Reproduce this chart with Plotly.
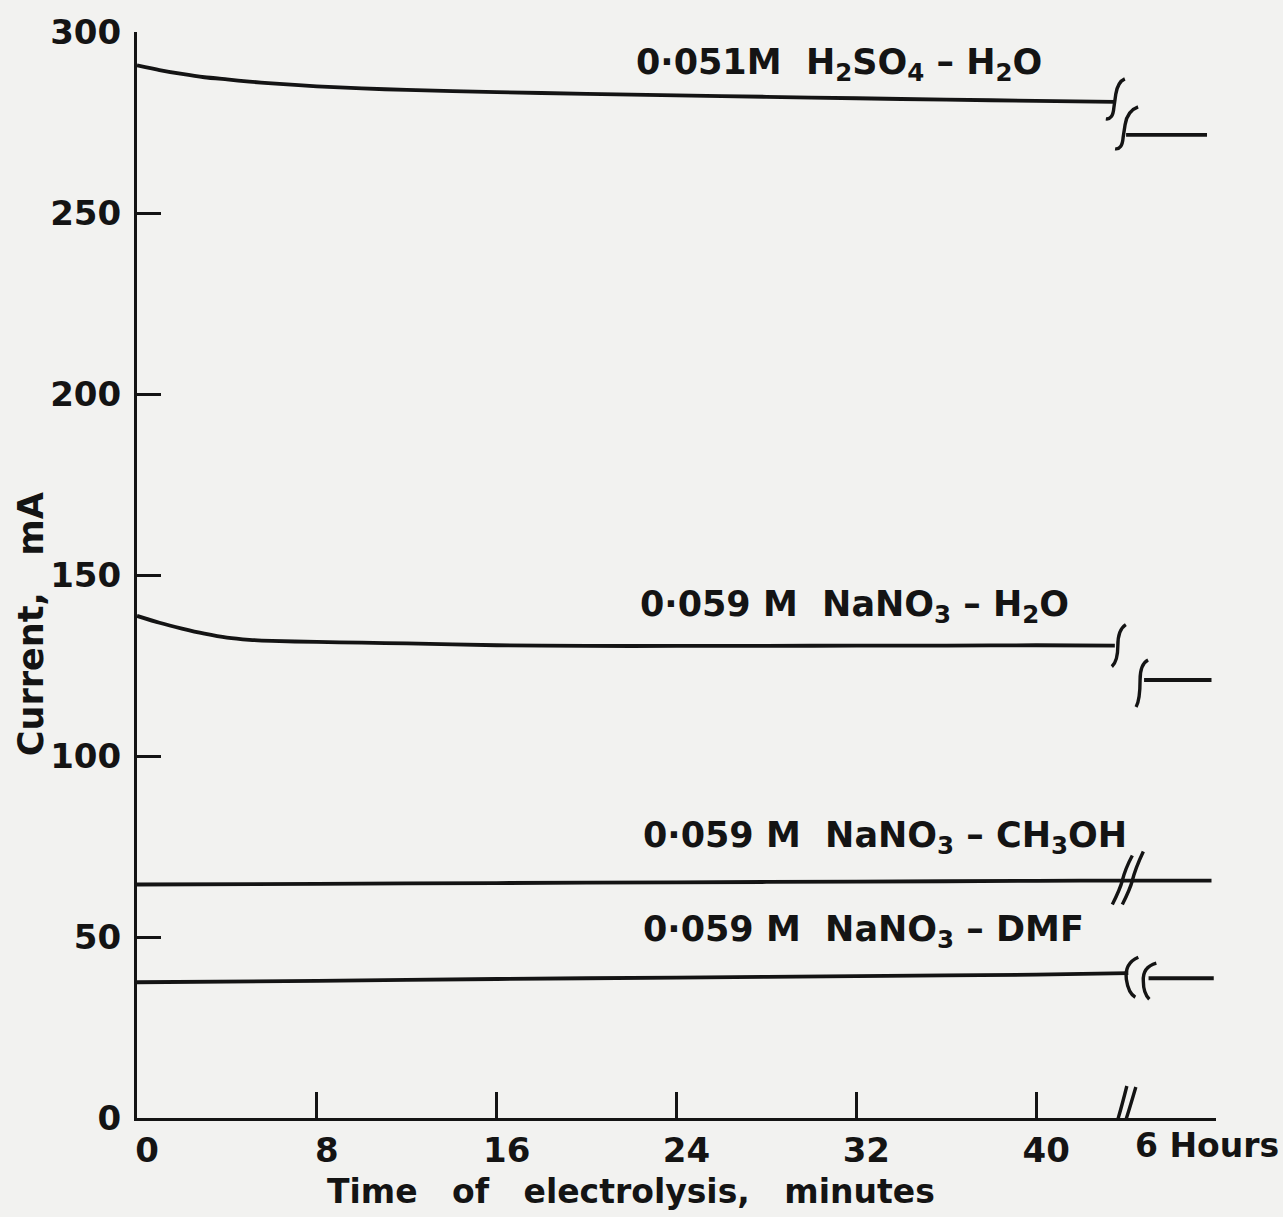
import plotly.graph_objects as go

# ---------------- data (x in minutes on the plotted scale; 48 = "6 Hours") ----------------
t_h2so4 = [0, 1, 2, 3, 4, 5, 6, 8, 10, 12, 16, 20, 24, 28, 32, 36, 40, 43.5]
i_h2so4 = [290.8, 289.5, 288.4, 287.5, 286.9, 286.3, 285.8, 285.0, 284.4, 284.0,
           283.4, 282.9, 282.5, 282.1, 281.7, 281.3, 281.0, 280.7]
t_h2so4_6h = [44.0, 47.6]
i_h2so4_6h = [271.6, 271.6]

t_nano3_h2o = [0, 1, 2, 3, 4, 5, 6, 8, 10, 12, 16, 20, 24, 28, 32, 36, 40, 43.5]
i_nano3_h2o = [138.7, 136.8, 135.2, 133.8, 132.7, 132.1, 131.8, 131.5, 131.3, 131.1,
               130.6, 130.4, 130.4, 130.4, 130.5, 130.5, 130.6, 130.5]
t_nano3_h2o_6h = [44.8, 47.8]
i_nano3_h2o_6h = [121.0, 121.0]

t_ch3oh = [0, 8, 16, 24, 32, 40, 44.1, 47.8]
i_ch3oh = [64.5, 64.7, 64.9, 65.1, 65.3, 65.5, 65.6, 65.6]

t_dmf = [0, 8, 16, 24, 32, 40, 44.1]
i_dmf = [37.5, 37.9, 38.4, 38.8, 39.2, 39.6, 40.0]
t_dmf_6h = [45.0, 47.9]
i_dmf_6h = [38.6, 38.6]

x_tickvals = [0, 8, 16, 24, 32, 40, 48]
x_ticktext = ["0", "8", "16", "24", "32", "40", ""]
y_tickvals = [0, 50, 100, 150, 200, 250, 300]

labels = [
    "0·051M  H<sub>2</sub>SO<sub>4</sub> – H<sub>2</sub>O",
    "0·059 M  NaNO<sub>3</sub> – H<sub>2</sub>O",
    "0·059 M  NaNO<sub>3</sub> – CH<sub>3</sub>OH",
    "0·059 M  NaNO<sub>3</sub> – DMF",
]
label_x = [22.1, 22.3, 22.4, 22.4]
label_y = [291.0, 141.3, 77.6, 51.6]

INK = "#141414"
BG = "#f2f2f0"
FONT = "DejaVu Sans"

fig = go.Figure()


def add_line(x, y):
    fig.add_trace(go.Scatter(x=x, y=y, mode="lines",
                             line=dict(color=INK, width=3.8, shape="spline", smoothing=0.6),
                             hoverinfo="skip", showlegend=False))


add_line(t_h2so4, i_h2so4)
add_line(t_h2so4_6h, i_h2so4_6h)
add_line(t_nano3_h2o, i_nano3_h2o)
add_line(t_nano3_h2o_6h, i_nano3_h2o_6h)
add_line(t_ch3oh, i_ch3oh)
add_line(t_dmf, i_dmf)
add_line(t_dmf_6h, i_dmf_6h)

# ---------------- break symbols (pixel paths anchored at data points) ----------------
def brk(xa, ya, path, color=INK, width=3.4):
    fig.add_shape(type="path", xref="x", yref="y", xsizemode="pixel", ysizemode="pixel",
                  xanchor=xa, yanchor=ya, path=path, layer="above",
                  line=dict(color=color, width=width))

# H2SO4
brk(t_h2so4[-1], i_h2so4[-1], "M -9,-17 Q -2,-18 -1,-6 L 1,8 Q 3,20 10,23")
brk(t_h2so4_6h[0], i_h2so4_6h[0], "M -11,-14 Q -4,-15 -3,-3 L -1,10 Q 1,24 12,28")
# NaNO3-H2O
brk(t_nano3_h2o[-1], i_nano3_h2o[-1], "M 11,21 Q 3,16 3,0 Q 3,-16 -3,-21")
brk(t_nano3_h2o_6h[0], i_nano3_h2o_6h[0], "M 4,20 Q -4,16 -4,0 Q -4,-20 -8,-27")
# CH3OH
brk(t_ch3oh[-2], i_ch3oh[-2], "M -16,-24 Q -8,-8 -6,0 Q -3,12 4,25")
brk(t_ch3oh[-2], i_ch3oh[-2], "M -6,-24 Q 2,-8 4,0 Q 7,12 15,29")
# DMF
brk(t_dmf[-1], i_dmf[-1], "M 10,16 Q -4,10 -2,-6 Q 0,-20 7,-24")
brk(t_dmf[-1], i_dmf[-1], "M 28,10 Q 14,6 15,-8 Q 15,-20 21,-26")
# x-axis break
brk(43.9, 0, "M -2,0 L 2,0", color=BG, width=5)
brk(43.9, 0, "M -11,-17 Q -5,0 3,32")
brk(43.9, 0, "M -3,-17 Q 3,0 12,31")

# ---------------- labels ----------------
for txt, lx, ly in zip(labels, label_x, label_y):
    fig.add_annotation(x=lx, y=ly, xref="x", yref="y", text=txt, showarrow=False,
                       xanchor="left", yanchor="middle",
                       font=dict(family=FONT, size=35, color=INK, weight="bold"))

fig.add_annotation(x=48, y=0, xref="x", yref="y", text="6 Hours", showarrow=False,
                   xanchor="center", yanchor="top", xshift=-9, yshift=-6,
                   font=dict(family=FONT, size=33, color=INK, weight="bold"))

fig.add_annotation(x=0.458, y=-0.068, xref="paper", yref="paper",
                   text="Time\u00a0\u00a0\u00a0of\u00a0\u00a0\u00a0electrolysis,\u00a0\u00a0\u00a0minutes",
                   showarrow=False, xanchor="center", yanchor="middle",
                   font=dict(family=FONT, size=33, color=INK, weight="bold"))

fig.add_annotation(x=-0.098, y=0.455, xref="paper", yref="paper",
                   text="Current,\u00a0\u00a0\u00a0mA", textangle=-90,
                   showarrow=False, xanchor="center", yanchor="middle",
                   font=dict(family=FONT, size=35, color=INK, weight="bold"))

fig.update_layout(
    width=1283, height=1217,
    margin=dict(l=137, r=67, t=30, b=99),
    paper_bgcolor=BG, plot_bgcolor=BG,
    showlegend=False,
)
fig.update_xaxes(range=[0, 48], tickvals=x_tickvals, ticktext=x_ticktext,
                 ticks="inside", ticklen=26, tickwidth=3, tickcolor=INK,
                 showline=True, linewidth=3, linecolor=INK, showgrid=False, zeroline=False,
                 ticklabelshift=10, ticklabelstandoff=0,
                 tickfont=dict(family=FONT, size=34, color=INK, weight="bold"))
fig.update_yaxes(range=[0, 300], tickvals=y_tickvals,
                 ticks="inside", ticklen=24, tickwidth=3, tickcolor=INK,
                 showline=True, linewidth=3, linecolor=INK, showgrid=False, zeroline=False,
                 ticklabelstandoff=6,
                 tickfont=dict(family=FONT, size=34, color=INK, weight="bold"))

# remove the page's default body margin so the figure sits at the window's corner
fig.write_html(
    "out.html",
    config={"displayModeBar": False},
    post_script="document.documentElement.style.margin='0';"
                "document.body.style.margin='0';document.body.style.overflow='hidden';"
                "document.body.style.background='" + BG + "';",
)
